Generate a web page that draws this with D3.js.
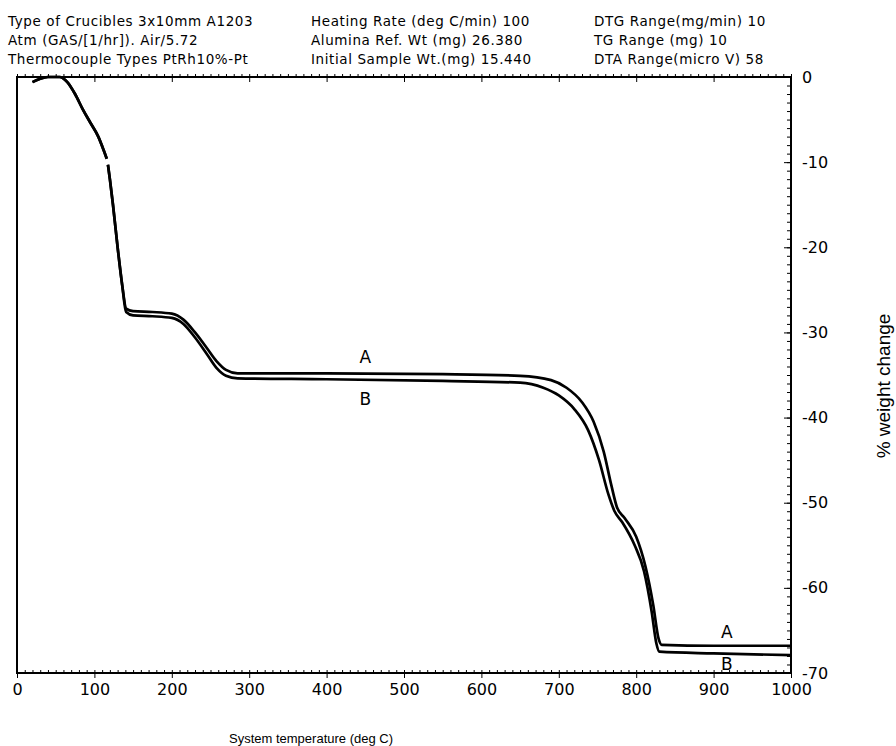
<!DOCTYPE html>
<html>
<head>
<meta charset="utf-8">
<title>TG curves A and B</title>
<script src="https://cdn.jsdelivr.net/npm/d3@7"></script>
<style>
  body { margin: 0; background: #fff; }
  text { font-family: "DejaVu Sans", sans-serif; fill: #000; }
</style>
</head>
<body>
<svg id="chart" width="896" height="746"></svg>
<script>
// header lines, three columns
var headerCols = [
  ["Type of Crucibles 3x10mm A1203", "Atm (GAS/[1/hr]). Air/5.72", "Thermocouple Types PtRh10%-Pt"],
  ["Heating Rate (deg C/min) 100", "Alumina Ref. Wt (mg)  26.380", "Initial Sample Wt.(mg)  15.440"],
  ["DTG Range(mg/min)  10", "TG  Range  (mg)   10", "DTA Range(micro V) 58"]
];

// temperature (deg C), % weight change
var tempA = [20, 30, 40, 55, 65, 75, 85, 95, 105, 112, 116, 117.5, 120, 124, 130, 136, 141, 150, 175, 200, 215, 230, 245, 258, 270, 285, 400, 550, 650, 690, 710, 730, 745, 758, 768, 775, 785, 800, 812, 822, 829, 833, 900, 1000];
var wtA   = [-0.6, -0.2, 0, 0, -0.6, -2, -3.8, -5.4, -7, -8.6, -9.6, -10.3, -12, -15, -20, -24.5, -27.2, -27.5, -27.6, -27.8, -28.5, -30, -31.8, -33.4, -34.4, -34.8, -34.8, -34.9, -35.1, -35.6, -36.5, -38.2, -40.5, -44, -48, -50.5, -51.8, -54, -57.5, -62, -66, -66.7, -66.8, -66.8];
var tempB = [20, 30, 40, 55, 65, 75, 85, 95, 105, 112, 116, 117.5, 120, 124, 130, 136, 141, 150, 175, 200, 215, 230, 245, 258, 270, 285, 400, 550, 650, 680, 700, 720, 738, 752, 764, 772, 782, 798, 810, 820, 826, 830, 900, 1000];
var wtB   = [-0.6, -0.2, 0, 0, -0.6, -2, -3.8, -5.4, -7, -8.6, -9.6, -10.3, -12, -15, -20, -24.5, -27.6, -28, -28.1, -28.3, -29, -30.6, -32.5, -34.2, -35.1, -35.4, -35.5, -35.7, -35.9, -36.5, -37.4, -39, -41.5, -45, -49, -51, -52.3, -55, -58, -62.8, -66.5, -67.5, -67.7, -67.9];

// the recorder pen lifts briefly around 117 deg C
var penLift = 117;

// curve labels
var curveLabels = [
  {t: "A", x: 450, y: -33.6},
  {t: "B", x: 450, y: -38.5},
  {t: "A", x: 917, y: -65.9},
  {t: "B", x: 917, y: -69.6}
];

var xTicks = d3.range(0, 1001, 100);
var yTicks = d3.range(0, -71, -10);

var svg = d3.select("#chart");
var mLeft = 17, mRight = 791, mTop = 77, mBottom = 673;

var x = d3.scaleLinear().domain([0, 1000]).range([mLeft, mRight]);
var y = d3.scaleLinear().domain([0, -70]).range([mTop, mBottom]);

// header
headerCols.forEach(function(col, i) {
  svg.selectAll(null).data(col).enter().append("text")
    .attr("x", [8, 311, 594][i])
    .attr("y", function(d, j) { return 26 + j * 19; })
    .style("font-size", "13.5px")
    .style("letter-spacing", "0.6px")
    .text(function(d) { return d; });
});

// bottom axis: minor ticks inward, major outward
svg.append("g").attr("transform", "translate(0," + mBottom + ")")
  .call(d3.axisBottom(x).tickValues(d3.range(0, 1001, 10)).tickSize(-3).tickFormat(""))
  .call(function(g) { g.select(".domain").remove(); });
svg.append("g").attr("transform", "translate(0," + mBottom + ")")
  .call(d3.axisBottom(x).tickValues(xTicks).tickSize(5).tickPadding(6).tickFormat(d3.format("d")))
  .call(function(g) {
    g.select(".domain").remove();
    g.selectAll("text").style("font-size", "16px").style("font-family", "DejaVu Sans");
  });

// top axis: minor ticks outward, major inward
svg.append("g").attr("transform", "translate(0," + mTop + ")")
  .call(d3.axisTop(x).tickValues(d3.range(0, 1001, 10)).tickSize(3).tickFormat(""))
  .call(function(g) { g.select(".domain").remove(); });
svg.append("g").attr("transform", "translate(0," + mTop + ")")
  .call(d3.axisTop(x).tickValues(xTicks).tickSize(-5).tickFormat(""))
  .call(function(g) { g.select(".domain").remove(); });

// right axis: minor ticks inward every 1 %, labels every 10
svg.append("g").attr("transform", "translate(" + mRight + ",0)")
  .call(d3.axisRight(y).tickValues(d3.range(0, -71, -1)).tickSize(-4).tickFormat(""))
  .call(function(g) { g.select(".domain").remove(); });
svg.append("g").attr("transform", "translate(" + mRight + ",0)")
  .call(d3.axisRight(y).tickValues(yTicks).tickSize(-7).tickPadding(11).tickFormat(function(d) { return d === 0 ? "0" : "-" + (-d); }))
  .call(function(g) {
    g.select(".domain").remove();
    g.selectAll("text").style("font-size", "16px").style("font-family", "DejaVu Sans");
  });

// frame
svg.append("rect")
  .attr("x", mLeft).attr("y", mTop)
  .attr("width", mRight - mLeft).attr("height", mBottom - mTop)
  .attr("fill", "none").attr("stroke", "#000").attr("stroke-width", 2);

// curves, drawn in two pieces either side of the pen lift
var line = d3.line()
  .x(function(d) { return x(d[0]); })
  .y(function(d) { return y(d[1]); })
  .curve(d3.curveMonotoneX);

[[tempA, wtA], [tempB, wtB]].forEach(function(s) {
  var pts = d3.zip(s[0], s[1]);
  var pieces = [
    pts.filter(function(p) { return p[0] < penLift; }),
    pts.filter(function(p) { return p[0] > penLift; })
  ];
  svg.selectAll(null).data(pieces).enter().append("path")
    .attr("d", line)
    .attr("fill", "none")
    .attr("stroke", "#000")
    .attr("stroke-width", 2.7);
});

svg.selectAll(".clabel").data(curveLabels).enter().append("text")
  .attr("class", "clabel")
  .attr("x", function(d) { return x(d.x); })
  .attr("y", function(d) { return y(d.y); })
  .attr("text-anchor", "middle")
  .style("font-size", "17px")
  .text(function(d) { return d.t; });

// axis titles
svg.append("text")
  .attr("x", 229).attr("y", 743)
  .style("font-family", "Liberation Sans")
  .style("font-size", "13px")
  .text("System temperature (deg C)");

svg.append("text")
  .attr("transform", "translate(890,386) rotate(-90)")
  .attr("text-anchor", "middle")
  .style("font-family", "Liberation Sans")
  .style("font-size", "19px")
  .text("% weight change");
</script>
</body>
</html>
